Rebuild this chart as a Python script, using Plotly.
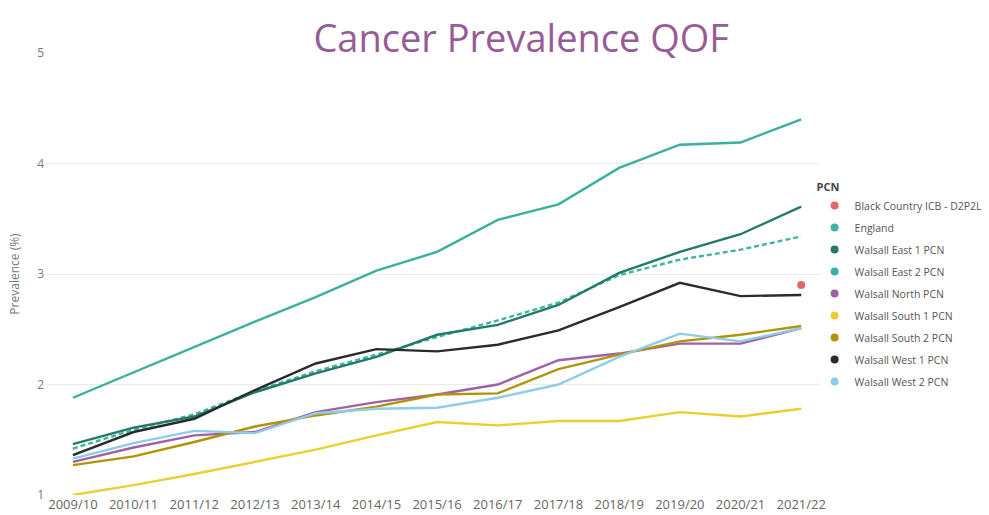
import plotly.graph_objects as go

# Financial years on the x axis
years = ["2009/10", "2010/11", "2011/12", "2012/13", "2013/14", "2014/15", "2015/16",
         "2016/17", "2017/18", "2018/19", "2019/20", "2020/21", "2021/22"]

# QOF cancer prevalence (%) by PCN
black_country_icb = [None] * 12 + [2.90]
england = [1.42, 1.59, 1.73, 1.94, 2.12, 2.27, 2.43, 2.58, 2.74, 2.99, 3.13, 3.22, 3.34]
walsall_east_1 = [1.46, 1.61, 1.71, 1.93, 2.10, 2.25, 2.45, 2.54, 2.72, 3.01, 3.20, 3.36, 3.61]
walsall_east_2 = [1.88, 2.11, 2.34, 2.57, 2.79, 3.03, 3.20, 3.49, 3.63, 3.96, 4.17, 4.19, 4.40]
walsall_north = [1.30, 1.43, 1.54, 1.57, 1.75, 1.84, 1.91, 2.00, 2.22, 2.28, 2.37, 2.37, 2.51]
walsall_south_1 = [1.00, 1.09, 1.19, 1.30, 1.41, 1.54, 1.66, 1.63, 1.67, 1.67, 1.75, 1.71, 1.78]
walsall_south_2 = [1.27, 1.35, 1.48, 1.62, 1.72, 1.80, 1.91, 1.92, 2.14, 2.27, 2.39, 2.45, 2.53]
walsall_west_1 = [1.36, 1.57, 1.69, 1.95, 2.19, 2.32, 2.30, 2.36, 2.49, 2.70, 2.92, 2.80, 2.81]
walsall_west_2 = [1.33, 1.47, 1.58, 1.56, 1.74, 1.78, 1.79, 1.88, 2.00, 2.25, 2.46, 2.39, 2.51]

series = [
    ("Black Country ICB - D2P2L", black_country_icb, "#E4676B", None),
    ("England", england, "#3DB5A0", "5px,3px"),
    ("Walsall East 1 PCN", walsall_east_1, "#227A68", "solid"),
    ("Walsall East 2 PCN", walsall_east_2, "#3AB0A0", "solid"),
    ("Walsall North PCN", walsall_north, "#9E62A6", "solid"),
    ("Walsall South 1 PCN", walsall_south_1, "#EBCF2E", "solid"),
    ("Walsall South 2 PCN", walsall_south_2, "#B19406", "solid"),
    ("Walsall West 1 PCN", walsall_west_1, "#2A2C2C", "solid"),
    ("Walsall West 2 PCN", walsall_west_2, "#8FCBEA", "solid"),
]

fig = go.Figure()

# Lines (drawn without legend entries)
for name, vals, color, dash in series:
    if dash is None:
        fig.add_trace(go.Scatter(x=years, y=vals, mode="markers", name=name,
                                 marker=dict(color=color, size=8),
                                 showlegend=False, cliponaxis=False))
    else:
        fig.add_trace(go.Scatter(x=years, y=vals, mode="lines", name=name,
                                 line=dict(color=color, width=2.4, dash=dash),
                                 showlegend=False, cliponaxis=False))

# Legend entries with round swatches
for name, vals, color, dash in series:
    fig.add_trace(go.Scatter(x=[None], y=[None], mode="markers", name=name,
                             marker=dict(color=color, size=8),
                             legendgroup=name, showlegend=True))

fig.update_layout(
    width=989, height=515,
    margin=dict(l=45, r=10, t=53, b=20, autoexpand=False),
    paper_bgcolor="white", plot_bgcolor="white",
    font=dict(family="Open Sans", color="#666666"),
    title=dict(text="Cancer Prevalence QOF", x=0.527, xanchor="center",
               y=0.925, yanchor="middle",
               font=dict(family="Open Sans", size=38, color="#975B95")),
    legend=dict(title=dict(text="<b>PCN</b>", font=dict(size=11, color="#444444")),
                x=0.824, xanchor="left", y=0.72, yanchor="top",
                font=dict(size=10.5, color="#555555"),
                tracegroupgap=3, itemwidth=30,
                bgcolor="rgba(0,0,0,0)"),
    xaxis=dict(type="category", range=[-0.46, 12.31], domain=[0, 0.8298],
               showgrid=False, showline=False, zeroline=False, ticks="",
               automargin=False,
               tickfont=dict(size=13, color="#666666")),
    yaxis=dict(range=[1, 5], dtick=1, showgrid=True, gridcolor="#EBEBEB",
               gridwidth=1, zeroline=False, showline=False, automargin=False,
               tickfont=dict(size=12, color="#777777"),
               title=dict(text="Prevalence (%)", standoff=14,
                          font=dict(size=12, color="#777777"))),
)

fig.write_html("out.html")
